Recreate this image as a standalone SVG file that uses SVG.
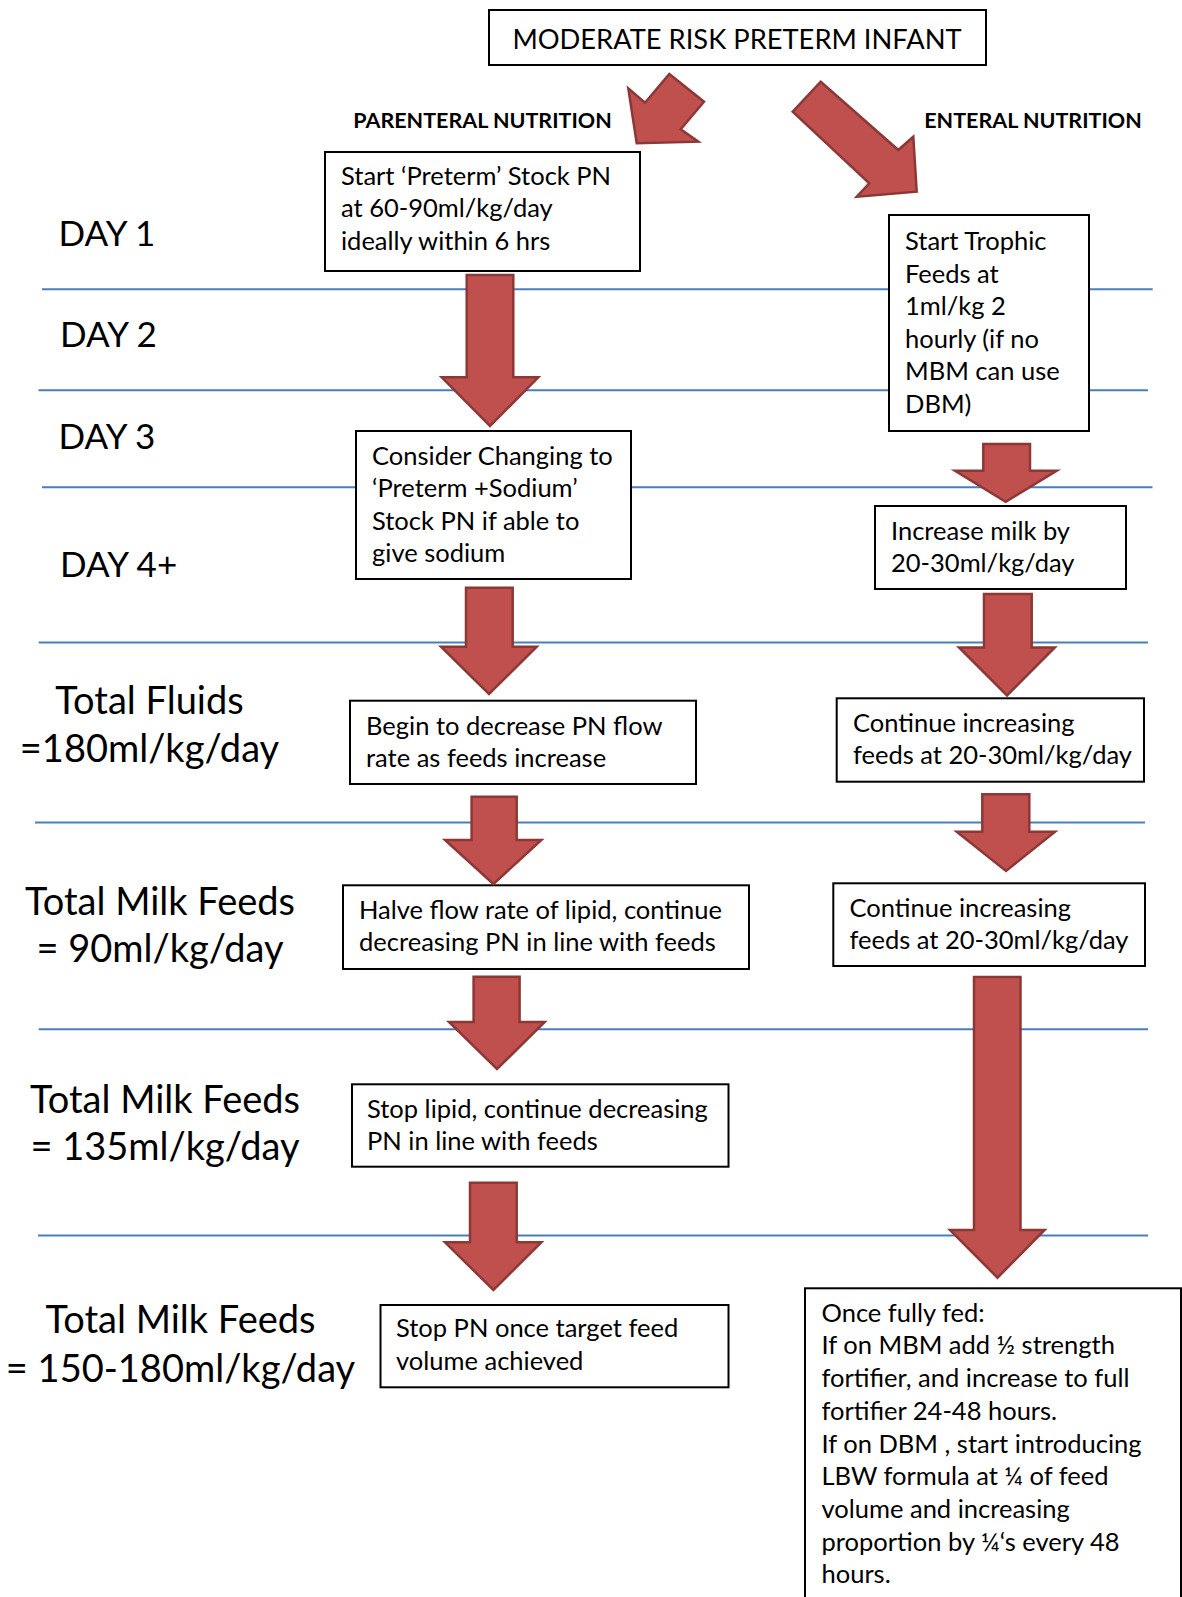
<svg xmlns="http://www.w3.org/2000/svg" width="1182" height="1597" viewBox="0 0 1182 1597">
<style>
.bg{fill:#ffffff}
.lane{stroke:#4A7EBB;stroke-width:2;fill:none}
.box{fill:#ffffff;stroke:#000000;stroke-width:2}
.arrow{fill:#C0504D;stroke:#8C3836;stroke-width:2.5;stroke-linejoin:miter}
.t{font-family:Lato,"Open Sans","Liberation Sans",sans-serif;font-size:25.5px;fill:#000000}
.title{font-family:Lato,"Open Sans","Liberation Sans",sans-serif;font-size:27.3px;fill:#000000;text-anchor:middle}
.head{font-family:Lato,"Open Sans","Liberation Sans",sans-serif;font-size:21.5px;font-weight:bold;fill:#000000;text-anchor:middle}
.lab{font-family:Lato,"Open Sans","Liberation Sans",sans-serif;font-size:35px;fill:#000000}
.labm{font-family:Lato,"Open Sans","Liberation Sans",sans-serif;font-size:38px;fill:#000000;text-anchor:middle}
</style>
<rect class="bg" x="0" y="0" width="1182" height="1597"/>
<g id="lanes">
<line class="lane" x1="42" y1="289.3" x2="1152.7" y2="289.3"/>
<line class="lane" x1="38.5" y1="390.3" x2="1148" y2="390.3"/>
<line class="lane" x1="42" y1="487.3" x2="1152.5" y2="487.3"/>
<line class="lane" x1="38.7" y1="642.5" x2="1148" y2="642.5"/>
<line class="lane" x1="35" y1="822.5" x2="1145" y2="822.5"/>
<line class="lane" x1="38.7" y1="1029.3" x2="1148" y2="1029.3"/>
<line class="lane" x1="38" y1="1235.5" x2="1148" y2="1235.5"/>
</g>
<g id="labels">
<text class="lab" x="58.5" y="245.7">DAY 1</text>
<text class="lab" x="60" y="346.7">DAY 2</text>
<text class="lab" x="58.5" y="449">DAY 3</text>
<text class="lab" x="60" y="576.7">DAY 4+</text>
<text class="labm" x="149.5" y="714">Total Fluids</text>
<text class="labm" x="149.5" y="762">=180ml/kg/day</text>
<text class="labm" x="160" y="915">Total Milk Feeds</text>
<text class="labm" x="160" y="961.5">= 90ml/kg/day</text>
<text class="labm" x="165" y="1112.7">Total Milk Feeds</text>
<text class="labm" x="165" y="1160">= 135ml/kg/day</text>
<text class="labm" x="180.5" y="1333.3">Total Milk Feeds</text>
<text class="labm" x="180.5" y="1381.7">= 150-180ml/kg/day</text>
<text class="head" x="482.5" y="128">PARENTERAL NUTRITION</text>
<text class="head" x="1033" y="128">ENTERAL NUTRITION</text>
</g>
<g id="n-start">
<rect class="box" x="489" y="10" width="497" height="55"/>
<text class="title" x="737" y="48.5">MODERATE RISK PRETERM INFANT</text>
</g>
<g id="n-pn1">
<rect class="box" x="325" y="152" width="315" height="119"/>
<text class="t" x="341" y="184.5">Start ‘Preterm’ Stock PN</text>
<text class="t" x="341" y="217">at 60-90ml/kg/day</text>
<text class="t" x="341" y="249.5">ideally within 6 hrs</text>
</g>
<g id="n-pn2">
<rect class="box" x="356" y="431" width="275" height="148"/>
<text class="t" x="372" y="464.5">Consider Changing to</text>
<text class="t" x="372" y="497">‘Preterm +Sodium’</text>
<text class="t" x="372" y="529.5">Stock PN if able to</text>
<text class="t" x="372" y="562">give sodium</text>
</g>
<g id="n-pn3">
<rect class="box" x="350" y="700.7" width="346" height="83.3"/>
<text class="t" x="366" y="734.5">Begin to decrease PN flow</text>
<text class="t" x="366" y="766.5">rate as feeds increase</text>
</g>
<g id="n-pn4">
<rect class="box" x="343" y="885.3" width="406" height="83.7"/>
<text class="t" x="359" y="918.5">Halve flow rate of lipid, continue</text>
<text class="t" x="359" y="950.5">decreasing PN in line with feeds</text>
</g>
<g id="n-pn5">
<rect class="box" x="352" y="1084.3" width="376.5" height="82.4"/>
<text class="t" x="367" y="1117.5">Stop lipid, continue decreasing</text>
<text class="t" x="367" y="1149.5">PN in line with feeds</text>
</g>
<g id="n-pn6">
<rect class="box" x="380.5" y="1305" width="348" height="82.3"/>
<text class="t" x="396" y="1337">Stop PN once target feed</text>
<text class="t" x="396" y="1369.5">volume achieved</text>
</g>
<g id="n-en1">
<rect class="box" x="889" y="215" width="200" height="216"/>
<text class="t" x="905" y="250">Start Trophic</text>
<text class="t" x="905" y="282.6">Feeds at</text>
<text class="t" x="905" y="315.2">1ml/kg 2</text>
<text class="t" x="905" y="347.8">hourly (if no</text>
<text class="t" x="905" y="380.4">MBM can use</text>
<text class="t" x="905" y="413">DBM)</text>
</g>
<g id="n-en2">
<rect class="box" x="875" y="506" width="251" height="83"/>
<text class="t" x="891" y="539.5">Increase milk by</text>
<text class="t" x="891" y="572">20-30ml/kg/day</text>
</g>
<g id="n-en3">
<rect class="box" x="836.7" y="698.3" width="307.3" height="83.4"/>
<text class="t" x="853" y="731.5">Continue increasing</text>
<text class="t" x="853" y="763.5">feeds at 20-30ml/kg/day</text>
</g>
<g id="n-en4">
<rect class="box" x="833.3" y="883.3" width="311.7" height="82.7"/>
<text class="t" x="849.5" y="917">Continue increasing</text>
<text class="t" x="849.5" y="948.5">feeds at 20-30ml/kg/day</text>
</g>
<g id="n-en5">
<rect class="box" x="805" y="1288.3" width="376" height="320"/>
<text class="t" x="821.5" y="1321.7">Once fully fed:</text>
<text class="t" x="821.5" y="1354.4">If on MBM add ½ strength</text>
<text class="t" x="821.5" y="1387.1">fortifier, and increase to full</text>
<text class="t" x="821.5" y="1419.8">fortifier 24-48 hours.</text>
<text class="t" x="821.5" y="1452.5">If on DBM , start introducing</text>
<text class="t" x="821.5" y="1485.2">LBW formula at ¼ of feed</text>
<text class="t" x="821.5" y="1517.9">volume and increasing</text>
<text class="t" x="821.5" y="1550.6">proportion by ¼‘s every 48</text>
<text class="t" x="821.5" y="1583.3">hours.</text>
</g>
<g id="connectors">
<polygon class="arrow" points="669.3,74 704,101.7 680.7,129.3 698.3,141.7 636.7,143.3 628.3,88.3 645,102.7"/>
<polygon class="arrow" points="820.7,81.7 898.3,150 913.3,136.7 916.7,191.7 856.7,196.7 869.3,183.3 792.7,111.7"/>
<polygon class="arrow" points="466.7,275 513.3,275 513.3,377.3 538.3,377.3 490,426 441.7,377.3 466.7,377.3"/>
<polygon class="arrow" points="466,587.7 512.7,587.7 512.7,646.7 536.7,646.7 489,694 441,646.7 466,646.7"/>
<polygon class="arrow" points="471.6,796.7 516.7,796.7 516.7,840 541.4,840 493.4,884 445,840 471.6,840"/>
<polygon class="arrow" points="473.6,976.7 519.6,976.7 519.6,1022 544.7,1022 497,1069 449,1022 473.6,1022"/>
<polygon class="arrow" points="470,1182.7 516.7,1182.7 516.7,1242.3 541.4,1242.3 493.4,1290 445,1242.3 470,1242.3"/>
<polygon class="arrow" points="983.3,444 1030,444 1030,470.7 1056.7,470.7 1005.7,501.7 955,470.7 983.3,470.7"/>
<polygon class="arrow" points="984,594 1031.7,594 1031.7,647.5 1054.8,647.5 1007,695.5 959,647.5 984,647.5"/>
<polygon class="arrow" points="982.3,794.3 1029.3,794.3 1029.3,831.7 1055,831.7 1006,871 956.7,831.7 982.3,831.7"/>
<polygon class="arrow" points="974,977 1020.5,977 1020.5,1230 1044.6,1230 997.5,1277.7 950,1230 974,1230"/>
</g>
</svg>
